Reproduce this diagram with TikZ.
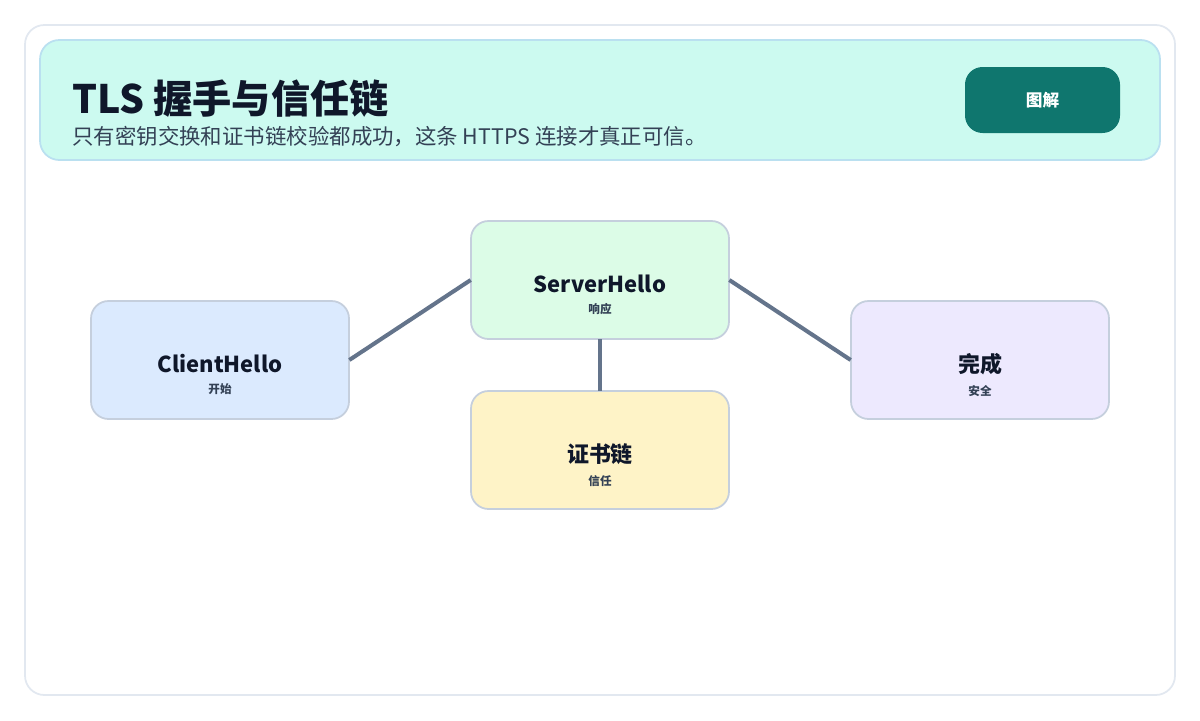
\documentclass[tikz,border=0pt]{standalone}
\usepackage{fontspec}
\setmainfont{Noto Sans CJK SC}
\usetikzlibrary{positioning}
\definecolor{cardline}{HTML}{E2E8F0}
\definecolor{headfill}{HTML}{CCFAF0}
\definecolor{headline}{HTML}{BAE0F0}
\definecolor{ink}{HTML}{0F172A}
\definecolor{subink}{HTML}{334155}
\definecolor{teal}{HTML}{0F766E}
\definecolor{edge}{HTML}{64748B}
\definecolor{boxline}{HTML}{C5CFDD}
\definecolor{fblue}{HTML}{DBEAFE}
\definecolor{fgreen}{HTML}{DCFCE7}
\definecolor{fyellow}{HTML}{FEF3C7}
\definecolor{fviolet}{HTML}{EDE9FE}
\begin{document}
\begin{tikzpicture}[x=0.02cm,y=-0.02cm,
% common options for the stage boxes:
stagebox/.style = {draw=boxline, line width=1pt, rounded corners=10pt},
link/.style = {draw=edge, line width=2.3pt}]
\useasboundingbox (0,0) rectangle (1200,720);
\draw[cardline, line width=1pt, fill=white, rounded corners=11pt] (25,25) rectangle (1175,695);
\draw[headline, line width=1pt, fill=headfill, rounded corners=11pt] (40,40) rectangle (1160,160);
\node[anchor=base west, text=ink, font=\bfseries\fontsize{22.3}{26}\selectfont, inner sep=0] (title) at (72,113) {TLS 握手与信任链};
\node[anchor=base west, text=subink, font=\fontsize{12.2}{14}\selectfont, inner sep=0] (subtitle) at (72,144) {只有密钥交换和证书链校验都成功，这条 HTTPS 连接才真正可信。};
\fill[teal, rounded corners=10pt] (965,67) rectangle (1120,133);
\node[text=white, font=\bfseries\fontsize{9.5}{11}\selectfont] (badge) at (1042.5,100) {图解};
% stage boxes
\draw[stagebox, fill=fblue] (91,301) rectangle (349,419);
\draw[stagebox, fill=fgreen] (471,221) rectangle (729,339);
\draw[stagebox, fill=fyellow] (471,391) rectangle (729,509);
\draw[stagebox, fill=fviolet] (851,301) rectangle (1109,419);
\node[minimum width=5.16cm, minimum height=2.36cm] (client) at (220,360) {};
\node[minimum width=5.16cm, minimum height=2.36cm] (server) at (600,280) {};
\node[minimum width=5.16cm, minimum height=2.36cm] (cert) at (600,450) {};
\node[minimum width=5.16cm, minimum height=2.36cm] (done) at (980,360) {};
\foreach \n/\a/\b in {client/ClientHello/开始, server/ServerHello/响应, cert/证书链/信任, done/完成/安全}{
  \node[text=ink, font=\bfseries\fontsize{12.5}{15}\selectfont, inner sep=0] (\n-t) at ([yshift=-0.08cm]\n.center) {\a};
  \node[text=subink, font=\bfseries\fontsize{6.6}{8}\selectfont, inner sep=0, below=0.2cm of \n-t] (\n-s) {\b};
}
% connectors
\draw[link] (client.east) -- (server.west);
\draw[link] (server.south) -- (cert.north);
\draw[link] (server.east) -- (done.west);
\end{tikzpicture}
\end{document}
